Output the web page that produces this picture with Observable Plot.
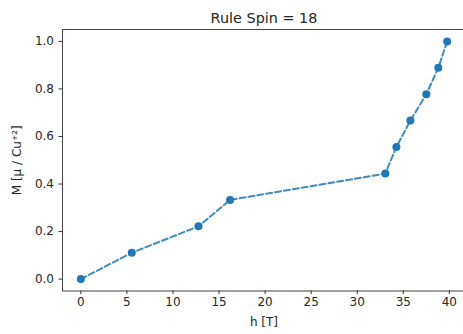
<!DOCTYPE html>
<html>
<head>
<meta charset="utf-8">
<script src="https://cdn.jsdelivr.net/npm/d3@7"></script>
<script src="https://cdn.jsdelivr.net/npm/@observablehq/plot@0.6"></script>
<style>
  html, body { margin: 0; padding: 0; background: #fff; }
  svg { display: block; }
</style>
</head>
<body>
<div id="chart"></div>
<script>
const hValues = [0, 5.53, 12.77, 16.2, 33.05, 34.25, 35.77, 37.5, 38.8, 39.76];
const mValues = [0, 0.111, 0.222, 0.333, 0.444, 0.556, 0.667, 0.778, 0.889, 1.0];
const xTicks = [0, 5, 10, 15, 20, 25, 30, 35, 40];
const yTicks = [0, 0.2, 0.4, 0.6, 0.8, 1.0];
const titleText = "Rule Spin = 18";
const xLabel = "h [T]";
const yLabel = "M [μ / Cu⁺²]";

const data = hValues.map((h, i) => ({h, m: mValues[i]}));
const blue = "#1f77b4";
const font = "DejaVu Sans, sans-serif";

const chart = Plot.plot({
  width: 463,
  height: 334,
  marginLeft: 62,
  marginRight: -2,
  marginTop: 29,
  marginBottom: 43.5,
  style: {fontFamily: font, fontSize: "12px", color: "#262626", background: "#fff"},
  x: {domain: [-1.99, 41.75]},
  y: {domain: [-0.05, 1.05]},
  marks: [
    Plot.frame({stroke: "#444", strokeWidth: 1}),
    Plot.axisX(xTicks, {tickSize: 3.5, tickPadding: 2.5, fontSize: 12, stroke: "#333", tickFormat: d => String(d),
      label: xLabel, labelAnchor: "center", labelArrow: "none", labelOffset: 35}),
    Plot.axisY(yTicks, {tickSize: 3.5, tickPadding: 5, fontSize: 12, stroke: "#333", tickFormat: d => d.toFixed(1),
      label: yLabel, labelAnchor: "center", labelArrow: "none", labelOffset: 50}),
    Plot.line(data, {x: "h", y: "m", stroke: blue, strokeWidth: 2, strokeDasharray: "6,3", strokeOpacity: 0.85}),
    Plot.dot(data, {x: "h", y: "m", r: 4, fill: blue, stroke: "none"}),
    Plot.text([titleText], {frameAnchor: "top", dy: -11.3, lineAnchor: "middle", fontSize: 14.4, fill: "#262626"})
  ]
});
document.getElementById("chart").appendChild(chart);
</script>
</body>
</html>
